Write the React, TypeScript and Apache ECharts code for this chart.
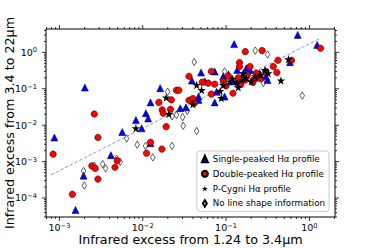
import React, { useEffect, useRef } from "react";
import * as echarts from "echarts";

// ---- axis ranges (data units) ----
const X_MIN = 6.9e-4;
const X_MAX = 2.03;
const Y_MIN = 3.0e-5;
const Y_MAX = 4.4;

// ---- tick positions ----
const X_MAJOR = [1e-3, 1e-2, 1e-1, 1];
const Y_MAJOR = [1e-4, 1e-3, 1e-2, 1e-1, 1];
const DECADES = [1e-5, 1e-4, 1e-3, 1e-2, 1e-1, 1];
const MINOR_MULT = [2, 3, 4, 5, 6, 7, 8, 9];

// ---- series names ----
const NAMES = [
  "Single-peaked H\u03b1 profile",
  "Double-peaked H\u03b1 profile",
  "P-Cygni H\u03b1 profile",
  "No line shape information",
];

// ---- data: [IR excess 1.24-3.4um, IR excess 3.4-22um] ----
const singlePeaked = [
  [2.02e-3, 0.108], [8.7e-4, 0.0046], [1.62e-2, 0.104], [1.24e-2, 0.0423],
  [1.09e-2, 0.0214], [1.16e-2, 0.0153], [8.28e-3, 0.0138], [9.7e-3, 0.0082],
  [5.67e-3, 0.0065], [1.24e-2, 0.0032], [4.15e-3, 0.0015], [1.95e-3, 4.1e-4],
  [1.56e-3, 4.7e-5], [2.82e-2, 0.0293], [3.89e-2, 0.168], [0.724, 3.03],
  [0.125, 1.69], [1.24, 1.61], [0.585, 0.54], [5.01e-2, 0.28],
  [0.107, 0.252], [0.136, 0.33], [0.315, 0.174], [7.71e-2, 0.083],
  [7.3e-2, 0.0423], [9.6e-2, 0.061], [4.67e-2, 0.061], [4.67e-2, 0.0496],
  [0.175, 0.368], [0.252, 0.268], [5.58e-2, 0.158], [9.25e-2, 0.221],
  [0.136, 0.174], [0.194, 0.33], [7.3e-2, 0.3], [3.3e-2, 0.0309],
  [0.16, 0.25], [0.22, 0.2], [0.3, 0.22], [0.12, 0.16],
];

const doublePeaked = [
  [2.62e-3, 0.0203], [2.9e-3, 0.0046], [8.4e-4, 0.0016], [3.59e-2, 0.221],
  [2.54e-2, 0.0916], [2.71e-2, 0.0916], [1.56e-2, 0.0423], [2.21e-2, 0.0496],
  [1.71e-2, 0.0263], [1.76e-2, 0.0214], [2.15e-2, 0.0275], [1.91e-2, 0.0091],
  [1.24e-2, 0.0034], [1.11e-2, 0.0017], [1.7e-2, 0.0022], [4.94e-3, 0.00106],
  [4.64e-3, 0.0007], [2.45e-3, 0.00076], [2.69e-3, 0.00065], [2.9e-3, 0.00033],
  [1.43e-3, 1.26e-4], [3.59e-2, 0.0486], [4.0e-2, 0.0538], [1.36, 1.3],
  [0.17, 1.05], [0.271, 1.12], [0.145, 0.525], [0.42, 0.61],
  [0.61, 0.61], [0.145, 0.41], [6.65e-2, 0.3], [6.65e-2, 0.0716],
  [0.121, 0.0757], [6.11e-2, 0.143], [5.18e-2, 0.152], [7.3e-2, 0.134],
  [0.369, 0.41], [0.407, 0.28], [0.252, 0.234], [0.194, 0.41],
  [0.212, 0.174], [0.17, 0.174], [4.15e-2, 0.0402], [0.107, 0.221],
  [9.25e-2, 0.158], [0.14, 0.2], [0.18, 0.24], [0.23, 0.27],
  [0.26, 0.19], [0.3, 0.3], [0.21, 0.15], [0.15, 0.13], [0.1, 0.12],
];

const pCygni = [
  [1.91e-2, 0.058], [2.06e-2, 0.0203], [8.28e-3, 0.0082], [4.0e-2, 0.0378],
  [0.561, 0.65], [0.456, 0.168], [4.44e-2, 0.128], [5.09e-2, 0.0933],
  [8.49e-2, 0.0875], [8.75e-2, 0.0562], [9.25e-2, 0.128], [0.111, 0.158],
  [0.154, 0.174], [0.175, 0.195], [0.293, 0.33], [0.321, 0.268],
  [0.224, 0.221], [0.136, 0.143], [0.161, 0.268], [0.12, 0.19],
  [0.2, 0.16], [0.26, 0.24], [0.14, 0.11],
];

const noLineShape = [
  [1.99e-2, 0.083], [2.54e-2, 0.019], [3.01e-2, 0.0166], [3.06e-2, 0.0097],
  [3.42e-2, 0.0247], [6.41e-3, 0.0043], [8.59e-3, 0.0029], [1.08e-2, 0.0027],
  [1.32e-2, 0.0013], [2.25e-2, 0.0027], [3.3e-3, 0.00085], [3.59e-3, 0.00065],
  [5.37e-3, 0.00098], [4.86e-3, 0.0012], [1.95e-3, 0.00055], [1.99e-3, 0.00022],
  [4.44e-2, 0.0069], [4.15e-2, 0.545], [0.224, 1.12], [0.315, 0.87],
  [9.6e-2, 0.3], [0.822, 0.065], [0.28, 0.143], [2.62e-3, 0.00076],
  [2.25e-2, 0.0176],
];

const fitLine = [
  [7.9e-4, 4.3e-4],
  [1.3, 2.35],
];

const STAR =
  "path://M50,0 L61.2,34.5 L97.6,34.5 L68.2,55.9 L79.4,90.5 L50,69.1 L20.6,90.5 L31.8,55.9 L2.4,34.5 L38.8,34.5 Z";
const THIN_DIAMOND = "path://M30,0 L60,50 L30,100 L0,50 Z";

const FONT = "DejaVu Sans";

function powLabel(v: number): string {
  const l = Math.log10(v);
  const r = Math.round(l);
  if (Math.abs(l - r) > 1e-6) return "";
  const exp = r < 0 ? "\u2212" + String(-r) : String(r);
  return "{b|10}{s|" + exp + "}";
}

const tickRich = {
  b: { fontSize: 9.5, lineHeight: 11, fontFamily: FONT, color: "#000" },
  s: { fontSize: 6.7, lineHeight: 5, verticalAlign: "top", fontFamily: FONT, color: "#000" },
};

function inRange(v: number, lo: number, hi: number) {
  return v >= lo * 0.9999 && v <= hi * 1.0001;
}

export default function App() {
  const ref = useRef<HTMLDivElement>(null);

  useEffect(() => {
    if (!ref.current) return;
    const chart = echarts.init(ref.current, undefined, { renderer: "svg" });

    const xTickData: number[][] = [];
    X_MAJOR.forEach((v) => xTickData.push([v, Y_MIN, 4]));
    DECADES.forEach((d) =>
      MINOR_MULT.forEach((m) => {
        const v = d * m;
        if (inRange(v, X_MIN, X_MAX)) xTickData.push([v, Y_MIN, 2]);
      })
    );
    const yTickData: number[][] = [];
    Y_MAJOR.forEach((v) => yTickData.push([X_MIN, v, 4]));
    DECADES.forEach((d) =>
      MINOR_MULT.forEach((m) => {
        const v = d * m;
        if (inRange(v, Y_MIN, Y_MAX)) yTickData.push([X_MIN, v, 2]);
      })
    );

    const tickStyle = { stroke: "#000", lineWidth: 0.8 };

    const option: any = {
      animation: false,
      backgroundColor: "#fff",
      textStyle: { fontFamily: FONT },
      grid: {
        left: 46,
        right: 37,
        top: 29,
        bottom: 31,
        containLabel: false,
        outerBoundsMode: "none",
        show: true,
        borderColor: "#000",
        borderWidth: 1,
        backgroundColor: "transparent",
      },
      xAxis: {
        type: "log",
        logBase: 10,
        min: X_MIN,
        max: X_MAX,
        axisLine: { show: false },
        axisTick: { show: false },
        splitLine: { show: false },
        axisLabel: {
          formatter: (v: number) => powLabel(v),
          rich: tickRich,
          color: "#000",
          margin: 5,
        },
        name: "Infrared excess from 1.24 to 3.4\u03bcm",
        nameLocation: "middle",
        nameGap: 16,
        nameMoveOverlap: false,
        nameTextStyle: { fontSize: 12.7, color: "#000", fontFamily: FONT },
      },
      yAxis: {
        type: "log",
        logBase: 10,
        min: Y_MIN,
        max: Y_MAX,
        axisLine: { show: false },
        axisTick: { show: false },
        splitLine: { show: false },
        axisLabel: {
          formatter: (v: number) => powLabel(v),
          rich: tickRich,
          color: "#000",
          margin: 9,
        },
        name: "Infrared excess from 3.4 to 22\u03bcm",
        nameLocation: "middle",
        nameGap: 30,
        nameMoveOverlap: false,
        nameTextStyle: { fontSize: 12.7, color: "#000", fontFamily: FONT },
      },
      legend: {
        data: NAMES,
        orient: "vertical",
        right: 43,
        top: 151,
        itemWidth: 6,
        itemHeight: 6.5,
        itemGap: 4.8,
        padding: [3, 4, 3, 4],
        borderColor: "#cccccc",
        borderWidth: 1,
        borderRadius: 3,
        backgroundColor: "rgba(255,255,255,0.8)",
        symbolKeepAspect: true,
        textStyle: { fontSize: 8.7, color: "#000", fontFamily: FONT, lineHeight: 10 },
      },
      series: [
        {
          type: "line",
          data: fitLine,
          symbol: "none",
          silent: true,
          z: 1,
          lineStyle: { color: "#8080ff", width: 0.9, type: [3.5, 1.8] },
        },
        {
          name: NAMES[3],
          type: "scatter",
          data: noLineShape,
          symbol: THIN_DIAMOND,
          symbolSize: [4.5, 7.5],
          z: 2,
          itemStyle: { color: "#ffffff", borderColor: "#000", borderWidth: 0.6, opacity: 1 },
        },
        {
          name: NAMES[0],
          type: "scatter",
          data: singlePeaked,
          symbol: "triangle",
          symbolSize: 7,
          z: 3,
          itemStyle: { color: "#0000ff", borderColor: "#000", borderWidth: 0.5, opacity: 1 },
        },
        {
          name: NAMES[1],
          type: "scatter",
          data: doublePeaked,
          symbol: "circle",
          symbolSize: 6.5,
          z: 3,
          itemStyle: { color: "#ff0000", borderColor: "#000", borderWidth: 0.5, opacity: 1 },
        },
        {
          name: NAMES[2],
          type: "scatter",
          data: pCygni,
          symbol: STAR,
          symbolSize: 8.5,
          z: 4,
          itemStyle: { color: "#000000", opacity: 1 },
        },
        {
          type: "custom",
          silent: true,
          z: 5,
          data: xTickData,
          renderItem: (_p: any, api: any) => {
            const v = api.value(0);
            const len = api.value(2);
            const pb = api.coord([v, Y_MIN]);
            const pt = api.coord([v, Y_MAX]);
            return {
              type: "group",
              children: [
                { type: "line", shape: { x1: pb[0], y1: pb[1], x2: pb[0], y2: pb[1] + len }, style: tickStyle },
                { type: "line", shape: { x1: pt[0], y1: pt[1], x2: pt[0], y2: pt[1] - len }, style: tickStyle },
              ],
            };
          },
        },
        {
          type: "custom",
          silent: true,
          z: 5,
          data: yTickData,
          renderItem: (_p: any, api: any) => {
            const v = api.value(1);
            const len = api.value(2);
            const pl = api.coord([X_MIN, v]);
            const pr = api.coord([X_MAX, v]);
            return {
              type: "group",
              children: [
                { type: "line", shape: { x1: pl[0], y1: pl[1], x2: pl[0] - len, y2: pl[1] }, style: tickStyle },
                { type: "line", shape: { x1: pr[0], y1: pr[1], x2: pr[0] + len, y2: pr[1] }, style: tickStyle },
              ],
            };
          },
        },
      ],
    };

    chart.setOption(option);
    return () => chart.dispose();
  }, []);

  return (
    <div
      ref={ref}
      style={{ position: "fixed", left: 0, top: 0, width: 372, height: 248, background: "#fff" }}
    />
  );
}
